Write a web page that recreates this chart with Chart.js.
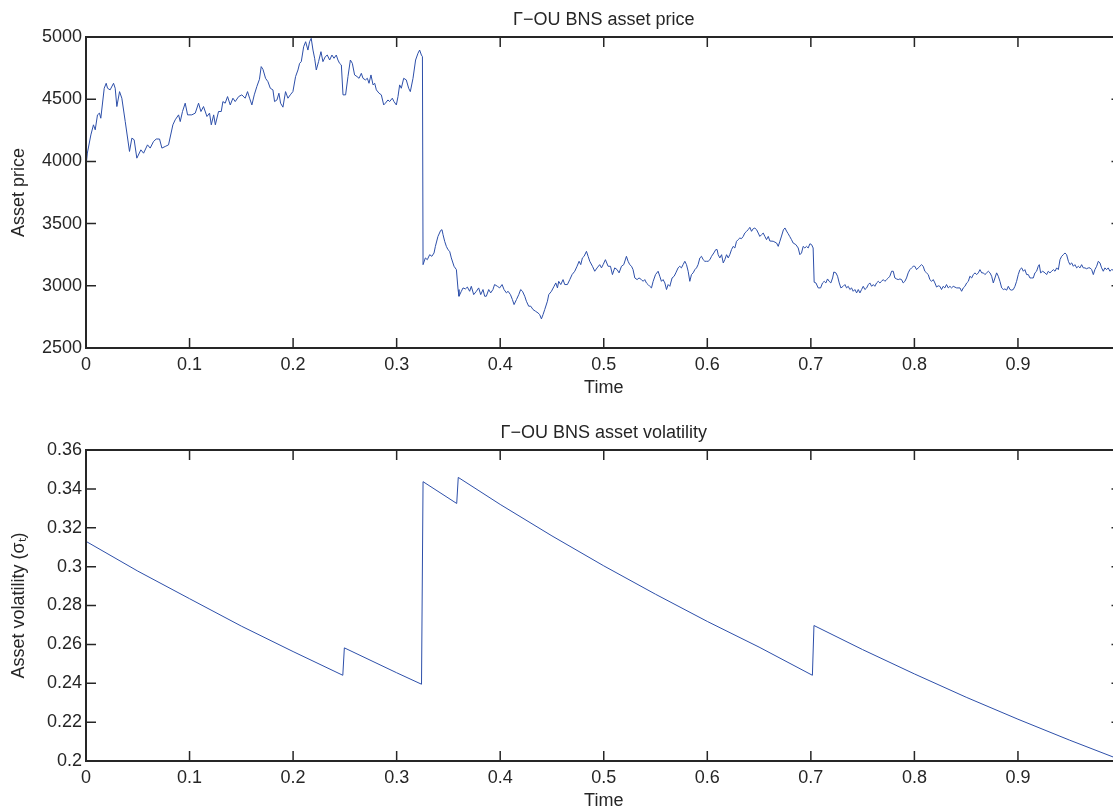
<!DOCTYPE html>
<html>
<head>
<meta charset="utf-8">
<script src="https://cdn.jsdelivr.net/npm/chart.js@4.4.1/dist/chart.umd.min.js"></script>
<style>
  html, body { margin: 0; padding: 0; background: #fff; overflow: hidden; width: 1113px; height: 810px; }
  #wrap { position: relative; width: 1113px; height: 810px; overflow: hidden; background: #fff; }
  canvas { position: absolute; left: 0; }
  #c1 { top: 0; }
  #c2 { top: 413px; }
</style>
</head>
<body>
<div id="wrap">
  <canvas id="c1" width="1140" height="400"></canvas>
  <canvas id="c2" width="1140" height="400"></canvas>
</div>
<script>
// ---- Data ----
const priceTitle = '\u0393\u2212OU BNS asset price';
const volTitle = '\u0393\u2212OU BNS asset volatility';
const xTicks = [0, 0.1, 0.2, 0.3, 0.4, 0.5, 0.6, 0.7, 0.8, 0.9];
const priceTicks = [2500, 3000, 3500, 4000, 4500, 5000];
const volTicks = [0.2, 0.22, 0.24, 0.26, 0.28, 0.3, 0.32, 0.34, 0.36];

const priceTime = [
0,0.0013,0.0047,0.0072,0.0089,0.0111,0.013,0.0143,0.0176,0.0195,0.0208,0.0233,0.0266,0.0282,0.0298,0.0324,0.0346,0.0379,0.042,0.0443,
0.0465,0.0491,0.053,0.0556,0.0594,0.062,0.0652,0.0678,0.071,0.0733,0.0765,0.0797,0.0839,0.0861,0.0894,0.091,0.0932,0.0958,0.0981,0.1022,
0.1055,0.1087,0.111,0.1135,0.1168,0.1193,0.121,0.1233,0.1249,0.128,0.1306,0.1322,0.1344,0.1367,0.1393,0.1419,0.1441,0.1474,0.1505,0.1537,
0.156,0.158,0.1602,0.1625,0.165,0.1675,0.1692,0.1709,0.1734,0.1757,0.178,0.1805,0.1821,0.1844,0.1863,0.1879,0.1902,0.1927,0.195,0.1973,
0.1998,0.2024,0.2047,0.2063,0.2079,0.2102,0.2121,0.2143,0.2159,0.2175,0.2192,0.2208,0.2224,0.2246,0.2269,0.2288,0.2311,0.233,0.2353,0.2375,
0.2395,0.2417,0.2433,0.2449,0.2466,0.2482,0.2507,0.253,0.2553,0.2572,0.2594,0.2617,0.2637,0.2659,0.2675,0.2698,0.2717,0.2733,0.2752,0.2772,
0.2788,0.2804,0.283,0.2852,0.2875,0.2891,0.2916,0.2932,0.2958,0.2974,0.2997,0.3013,0.3029,0.3045,0.3068,0.3093,0.3116,0.3132,0.3158,0.3183,
0.3206,0.3222,0.3239,0.3249,0.3255,0.3277,0.3296,0.3319,0.334,0.3361,0.3374,0.3399,0.3425,0.3438,0.3448,0.3464,0.348,0.3496,0.3512,0.3528,
0.3554,0.3577,0.3593,0.3602,0.3625,0.3641,0.3664,0.3683,0.3705,0.3721,0.3744,0.377,0.3792,0.3812,0.3834,0.385,0.3866,0.3889,0.3908,0.393,
0.3946,0.3973,0.3995,0.4018,0.4037,0.406,0.4076,0.4099,0.4118,0.4134,0.4157,0.4179,0.4198,0.4215,0.4237,0.4253,0.4275,0.4295,0.4317,0.434,
0.4365,0.4381,0.4398,0.4414,0.443,0.4456,0.4469,0.4495,0.452,0.4537,0.4553,0.4565,0.4585,0.4607,0.4623,0.4649,0.4672,0.4694,0.472,0.4742,
0.4762,0.4778,0.4794,0.481,0.4833,0.4849,0.4865,0.4891,0.4913,0.4936,0.4961,0.4978,0.4994,0.5016,0.5042,0.5065,0.5084,0.5106,0.5129,0.5148,
0.5171,0.5193,0.5219,0.5235,0.5251,0.5268,0.5283,0.53,0.5322,0.5341,0.5364,0.538,0.5396,0.5412,0.5428,0.5444,0.5461,0.5477,0.55,0.5525,
0.5541,0.5557,0.5573,0.559,0.5606,0.5622,0.5638,0.566,0.568,0.5696,0.5718,0.5734,0.575,0.5766,0.5783,0.5799,0.5815,0.5831,0.5847,0.5863,
0.588,0.5896,0.5911,0.5928,0.5944,0.596,0.5976,0.5992,0.6008,0.6025,0.6041,0.6063,0.6082,0.6095,0.6105,0.6121,0.6138,0.6154,0.6169,0.6186,
0.6202,0.6217,0.6234,0.625,0.6266,0.6282,0.6298,0.6314,0.633,0.6347,0.6362,0.6379,0.6395,0.6411,0.6427,0.6443,0.6459,0.6476,0.6492,0.6507,
0.6524,0.654,0.6556,0.6572,0.6589,0.6604,0.6636,0.6669,0.6685,0.6701,0.6717,0.6735,0.675,0.6765,0.678,0.6797,0.6813,0.6829,0.6855,0.6878,
0.6894,0.691,0.6926,0.6942,0.6958,0.6974,0.6991,0.7007,0.7022,0.7032,0.7049,0.7071,0.7094,0.7113,0.7129,0.7145,0.7161,0.7177,0.7193,0.721,
0.7222,0.7242,0.7258,0.7274,0.729,0.7312,0.7329,0.7345,0.7361,0.7377,0.7393,0.7409,0.7425,0.7442,0.7458,0.7474,0.749,0.7506,0.7522,0.7539,
0.7555,0.757,0.7587,0.7603,0.7618,0.7635,0.7651,0.7667,0.7683,0.7699,0.7715,0.7732,0.7748,0.7763,0.778,0.7796,0.7811,0.7828,0.7844,0.786,
0.7876,0.7892,0.7908,0.7924,0.794,0.7956,0.7973,0.7989,0.8004,0.8021,0.8037,0.8053,0.8069,0.8085,0.8101,0.8117,0.8134,0.8149,0.8166,0.8182,
0.8198,0.8214,0.823,0.8246,0.8262,0.8278,0.8294,0.831,0.8327,0.8343,0.8359,0.8375,0.8408,0.844,0.8456,0.8472,0.8488,0.8505,0.8521,0.8536,
0.8553,0.8569,0.8585,0.8601,0.8617,0.8633,0.865,0.8666,0.8681,0.8698,0.8714,0.873,0.8746,0.8762,0.8778,0.8794,0.881,0.8826,0.8843,0.8859,
0.8874,0.8891,0.8907,0.8923,0.8939,0.8955,0.8971,0.8987,0.9003,0.9019,0.9036,0.9052,0.9067,0.9084,0.91,0.9116,0.9132,0.9148,0.9164,0.918,
0.9196,0.9206,0.9219,0.9239,0.9261,0.9277,0.9293,0.9309,0.9326,0.9342,0.9358,0.9374,0.939,0.9406,0.9422,0.9438,0.9454,0.947,0.9487,0.9502,
0.9519,0.9535,0.955,0.9567,0.9583,0.9599,0.9615,0.9631,0.9647,0.9663,0.9679,0.9696,0.9712,0.9728,0.9743,0.976,0.9776,0.9792,0.9808,0.9824,
0.984,0.9856,0.9872,0.9888,0.9904,0.995,1.0
];
const priceValue = [
3960,4067,4213,4294,4254,4374,4388,4347,4588,4628,4588,4575,4628,4588,4441,4561,4508,4320,4080,4187,
4174,4026,4093,4066,4133,4107,4160,4180,4180,4107,4120,4133,4294,4334,4374,4320,4401,4468,4374,4374,
4388,4468,4401,4441,4361,4388,4294,4374,4294,4401,4401,4481,4468,4521,4454,4508,4481,4521,4535,4508,
4561,4508,4454,4535,4602,4660,4762,4740,4668,4641,4588,4575,4481,4494,4548,4468,4436,4561,4508,4535,
4561,4682,4735,4788,4802,4922,4962,4895,4962,4989,4895,4829,4735,4802,4882,4802,4842,4855,4815,4855,
4829,4855,4815,4788,4775,4535,4535,4682,4815,4788,4695,4682,4668,4708,4668,4655,4668,4628,4695,4615,
4628,4575,4548,4535,4454,4468,4494,4481,4508,4481,4454,4521,4615,4588,4668,4655,4588,4561,4668,4815,
4869,4895,4855,4842,3170,3224,3210,3250,3237,3264,3317,3397,3445,3451,3411,3357,3317,3290,3277,3224,
3157,3130,2970,2916,2956,2983,2975,2990,2956,2996,2929,2956,2983,2929,2970,2916,2916,2970,2943,2970,
3010,2996,2983,3010,2970,2943,2956,2929,2889,2849,2889,2929,2970,2956,2916,2876,2836,2836,2809,2796,
2782,2769,2734,2769,2809,2876,2929,2956,2996,3023,2983,3036,3010,3050,3010,3010,3050,3090,3117,3157,
3197,3170,3224,3237,3277,3237,3197,3157,3117,3144,3170,3144,3170,3210,3157,3157,3090,3144,3130,3104,
3157,3170,3237,3197,3170,3157,3130,3063,3050,3063,3050,3036,3050,3023,3010,2996,2983,3036,3090,3117,
3077,3036,3050,3023,2970,3010,2996,3063,3077,3104,3144,3157,3144,3170,3197,3170,3117,3036,3090,3104,
3130,3144,3170,3224,3237,3210,3197,3197,3197,3210,3237,3264,3291,3291,3250,3224,3250,3184,3210,3250,
3224,3250,3291,3317,3304,3357,3371,3384,3379,3397,3424,3438,3451,3470,3438,3459,3464,3451,3424,3397,
3411,3424,3397,3371,3397,3360,3358,3344,3317,3358,3400,3450,3465,3440,3420,3395,3371,3344,3331,3304,
3250,3264,3317,3304,3317,3304,3338,3331,3304,3029,3023,2983,2983,3023,3036,3023,3055,3036,3023,3063,
3111,3104,3077,3023,2983,2996,3010,2983,2996,2970,2983,2956,2970,2943,2970,2943,2970,2996,2970,2983,
3010,3023,2996,3010,2996,3023,3036,3023,3036,3050,3036,3050,3063,3077,3117,3117,3063,3055,3050,3055,
3050,3023,3036,3063,3104,3130,3144,3157,3157,3130,3144,3157,3170,3157,3117,3104,3090,3050,3036,3050,
3023,2990,3000,2996,2970,2996,2983,3010,2983,2996,2983,2996,2983,2983,2956,2983,2996,3023,3036,3077,
3063,3090,3104,3090,3104,3130,3104,3104,3090,3104,3117,3104,3077,3023,3063,3104,3077,3036,2983,2970,
2975,2965,2996,2970,2965,2970,2996,3036,3090,3130,3144,3117,3130,3090,3090,3063,3063,3063,3104,3117,
3157,3170,3104,3117,3104,3090,3117,3104,3117,3130,3117,3144,3130,3210,3237,3250,3264,3250,3197,3170,
3184,3157,3170,3144,3157,3144,3170,3144,3144,3137,3144,3144,3130,3090,3130,3157,3197,3184,3144,3117,
3144,3130,3144,3117,3130,3120,3115
];

const volTime = [0, 0.05, 0.1, 0.15, 0.2, 0.248, 0.2495, 0.3, 0.324, 0.3255, 0.358, 0.3595, 0.4, 0.45, 0.5, 0.55, 0.6, 0.65, 0.7015, 0.703, 0.75, 0.8, 0.85, 0.9, 0.95, 1.0];
const volValue = [0.313, 0.2977, 0.2835, 0.2694, 0.2563, 0.2441, 0.2582, 0.2454, 0.2395, 0.3437, 0.3325, 0.3459, 0.332, 0.3158, 0.3004, 0.2858, 0.2718, 0.2586, 0.2441, 0.2697, 0.2573, 0.2448, 0.2328, 0.2215, 0.2107, 0.2004];

// ---- Styling ----
const FONT = { family: "'Liberation Sans', Arial, Helvetica, sans-serif", size: 18, weight: 'normal' };
const TEXT = '#262626';
const LINE = '#2d4fa9';

function fmt(v) { return String(+Number(v).toFixed(2)); }

const boxPlugin = {
  id: 'matlabBox',
  afterDraw(chart) {
    const { ctx, chartArea: a, scales: { x, y } } = chart;
    const L = 10;
    ctx.save();
    ctx.strokeStyle = '#262626';
    ctx.lineWidth = 1.5;
    ctx.beginPath();
    x.ticks.forEach(t => {
      const px = x.getPixelForValue(t.value);
      ctx.moveTo(px, a.bottom); ctx.lineTo(px, a.bottom - L);
      ctx.moveTo(px, a.top); ctx.lineTo(px, a.top + L);
    });
    y.ticks.forEach(t => {
      const py = y.getPixelForValue(t.value);
      ctx.moveTo(a.left, py); ctx.lineTo(a.left + L, py);
      ctx.moveTo(a.right, py); ctx.lineTo(a.right - L, py);
    });
    ctx.stroke();
    ctx.lineWidth = 2;
    ctx.strokeRect(a.left, a.top, a.right - a.left, a.bottom - a.top);
    ctx.restore();
  }
};

function makeChart(id, title, times, values, yMin, yMax, yTickVals, yTitle) {
  const pts = times.map((t, i) => ({ x: t, y: values[i] }));
  return new Chart(document.getElementById(id), {
    type: 'line',
    data: { datasets: [{ data: pts, borderColor: LINE, borderWidth: 1, pointRadius: 0, tension: 0, fill: false }] },
    options: {
      responsive: false, animation: false, devicePixelRatio: 1, parsing: true,
      layout: { padding: { left: 0, right: 18.5, top: 0, bottom: 0 } },
      plugins: {
        legend: { display: false }, tooltip: { enabled: false },
        title: { display: true, text: title, color: TEXT, font: FONT, fullSize: false, padding: { top: 9.2, bottom: 6.2 } }
      },
      scales: {
        x: {
          type: 'linear', min: 0, max: 1,
          grid: { display: false, drawTicks: false, tickLength: 0 }, border: { display: false },
          afterBuildTicks: s => { s.ticks = xTicks.map(v => ({ value: v })); },
          afterFit: s => { s.height = 52; },
          ticks: { color: TEXT, font: FONT, padding: 6, maxRotation: 0, autoSkip: false, callback: v => fmt(v) },
          title: { display: true, text: 'Time', color: TEXT, font: FONT, padding: { top: 0, bottom: 1.2 } }
        },
        y: {
          type: 'linear', min: yMin, max: yMax,
          grid: { display: false, drawTicks: false, tickLength: 0 }, border: { display: false },
          afterBuildTicks: s => { s.ticks = yTickVals.map(v => ({ value: v })); },
          afterFit: s => { s.width = 86; },
          ticks: { color: TEXT, font: FONT, padding: 4, autoSkip: false, callback: v => fmt(v) },
          title: { display: true, text: yTitle, color: TEXT, font: FONT, padding: { top: 8.2, bottom: 0 } }
        }
      }
    },
    plugins: [boxPlugin]
  });
}

makeChart('c1', priceTitle, priceTime, priceValue, 2500, 5000, priceTicks, 'Asset price');
makeChart('c2', volTitle, volTime, volValue, 0.2, 0.36, volTicks, 'Asset volatility (\u03C3\u209C)');
</script>
</body>
</html>
